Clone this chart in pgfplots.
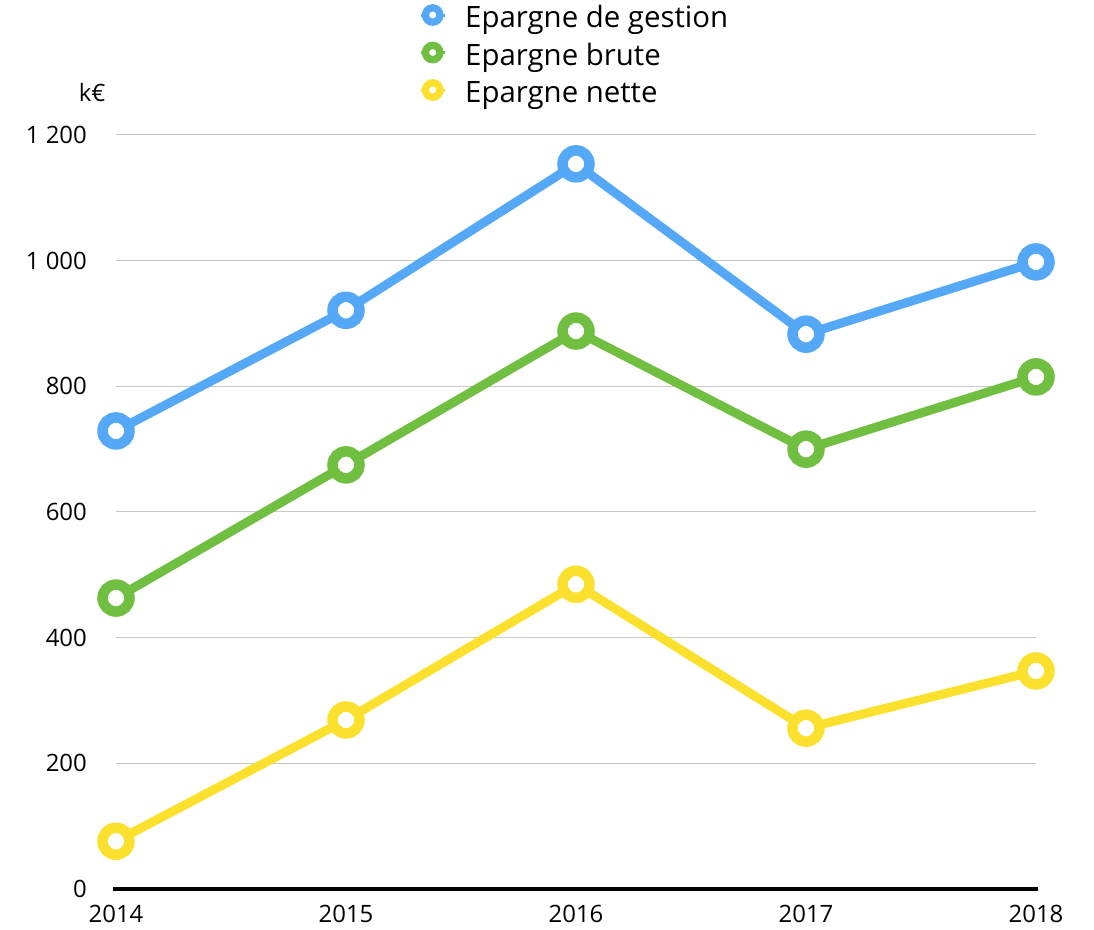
\documentclass[border=0pt]{standalone}
\usepackage{pgfplots}
\pgfplotsset{compat=1.18}
\usepackage{fontspec}
\setmainfont{Open Sans}
\definecolor{cblue}{HTML}{55A8F6}
\definecolor{cgreen}{HTML}{70BF41}
\definecolor{cyellow}{HTML}{FBE02E}
\definecolor{cgrid}{HTML}{C8C8C8}
\begin{document}
\begin{tikzpicture}
\useasboundingbox (-116bp,-41bp) rectangle (978bp,889bp);
\begin{axis}[
  scale only axis,
  width=920bp, height=754bp,
  xmin=2014, xmax=2018, ymin=0, ymax=1200,
  clip=false,
  axis x line*=bottom, axis y line*=left,
  y axis line style={draw=none},
  x axis line style={line width=3bp, black, shorten <=-3bp, shorten >=-2bp, -},
  xtick={2014,2015,2016,2017,2018},
  xticklabels={2014,2015,2016,2017,2018},
  ytick={0,200,400,600,800,1000,1200},
  yticklabels={0,200,400,600,800,1 000,1 200},
  major tick length=0pt,
  ymajorgrids,
  grid style={cgrid, line width=1bp},
  tick label style={font=\fontsize{24}{28}\selectfont, inner sep=0pt},
  yticklabel style={anchor=east, xshift=-29bp},
  xticklabel style={anchor=north, yshift=-16bp},
  legend style={at={(rel axis cs:0.3239,1.1763)}, anchor=north west, draw=none, fill=none,
    inner sep=0pt, row sep=0bp, column sep=0pt,
    font=\fontsize{29.5}{32}\selectfont,
    nodes={inner sep=0pt, text height=25.5bp, text depth=12bp}},
  legend cell align=left,
  legend image code/.code={%
    \path (0bp,0bp) (42bp,0bp);
    \draw[line width=3bp] (2bp,6bp) -- (26bp,6bp);
    \draw[line width=7.3bp, fill=white] (14bp,6bp) circle (7.2bp);},
  every axis plot/.append style={line width=9bp, mark=*, mark size=13.5bp, mark options={fill=white, solid, line width=10.5bp}},
]
\addplot[cblue] coordinates {(2014,729) (2015,921) (2016,1154) (2017,883) (2018,998)};
\addlegendentry{Epargne de gestion}
\addplot[cgreen] coordinates {(2014,463) (2015,675) (2016,888) (2017,700) (2018,815)};
\addlegendentry{Epargne brute}
\addplot[cyellow] coordinates {(2014,76) (2015,269) (2016,485) (2017,256) (2018,347)};
\addlegendentry{Epargne nette}
\node[font=\fontsize{24}{28}\selectfont, inner sep=0pt] at (rel axis cs:-0.026,1.0557) {k€};
\end{axis}
\end{tikzpicture}
\end{document}
